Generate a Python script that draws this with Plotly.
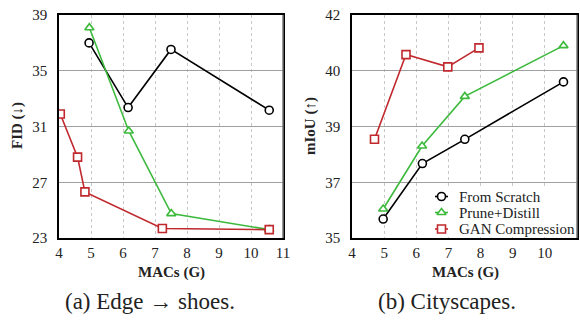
import numpy as np
import plotly.graph_objects as go

# ---- data ----
series_names = ["From Scratch", "Prune+Distill", "GAN Compression"]

# (a) Edge -> shoes, FID
edge_scratch_x = [4.94, 6.16, 7.50, 10.57]
edge_scratch_y = [37.0, 32.36, 36.53, 32.17]
edge_prune_x = [4.95, 6.18, 7.51, 10.57]
edge_prune_y = [38.09, 30.68, 24.75, 23.60]
edge_gan_x = [4.04, 4.58, 4.81, 7.23, 10.57]
edge_gan_y = [31.9, 28.8, 26.31, 23.68, 23.60]

# (b) Cityscapes, mIoU
city_scratch_x = [4.97, 6.19, 7.51, 10.58]
city_scratch_y = [35.68, 37.67, 38.54, 39.80]
city_prune_x = [4.97, 6.18, 7.51, 10.58]
city_prune_y = [36.04, 38.30, 39.54, 40.90]
city_gan_x = [4.70, 5.68, 6.98, 7.95]
city_gan_y = [38.54, 40.58, 40.14, 40.82]

edge_yticks = [23, 27, 31, 35, 39]
city_yticks = [35, 37, 39, 40, 42]
x_ticks = [4, 5, 6, 7, 8, 9, 10, 11]

colors = ["#000000", "#3dba3d", "#c0282d"]
symbols = ["circle", "triangle-up", "square"]

# the Cityscapes axis places its labelled ticks evenly
city_pos = list(range(len(city_yticks)))
def city_map(v):
    return np.interp(v, city_yticks, city_pos)

FONT = "Times New Roman, Liberation Serif, DejaVu Serif, serif"
W, H = 580, 322

def marker(i):
    return dict(symbol=symbols[i], size=8, color="white", line=dict(width=1.6, color=colors[i]))

fig = go.Figure()
edge = [(edge_scratch_x, edge_scratch_y), (edge_prune_x, edge_prune_y), (edge_gan_x, edge_gan_y)]
city = [(city_scratch_x, city_scratch_y), (city_prune_x, city_prune_y), (city_gan_x, city_gan_y)]
for i, (xs, ys) in enumerate(edge):
    fig.add_trace(go.Scatter(x=xs, y=ys, mode="lines+markers", name=series_names[i],
                             line=dict(color=colors[i], width=1.6), marker=marker(i),
                             xaxis="x", yaxis="y", showlegend=False))
for i, (xs, ys) in enumerate(city):
    fig.add_trace(go.Scatter(x=xs, y=city_map(ys), mode="lines+markers", name=series_names[i],
                             line=dict(color=colors[i], width=1.6), marker=marker(i),
                             xaxis="x2", yaxis="y2", showlegend=False))

# ---- manual legend box (layout positions in pixels) ----
LEG_X0, LEG_X1, LEG_Y0, LEG_Y1 = 428, 576, 188, 237
leg_rows_y = [196.5, 212.5, 229]
leg_sym_x0, leg_sym_x1, leg_sym_xc, leg_text_x = 435, 448, 441.5, 457
for i in range(3):
    yy = leg_rows_y[i]
    fig.add_trace(go.Scatter(x=[leg_sym_x0, leg_sym_x1], y=[yy, yy], mode="lines",
                             line=dict(color=colors[i], width=1.6), xaxis="x3", yaxis="y3",
                             showlegend=False, hoverinfo="skip"))
    fig.add_trace(go.Scatter(x=[leg_sym_xc], y=[yy], mode="markers", marker=marker(i),
                             xaxis="x3", yaxis="y3", showlegend=False, hoverinfo="skip"))

axis_common = dict(showline=True, linecolor="#000000", linewidth=1.5, mirror=True, automargin=False,
                   tickfont=dict(family=FONT, size=15, color="#222"), zeroline=False)
y_ticks_style = dict(ticks="outside", ticklen=7, tickcolor="rgba(0,0,0,0)")

L0, L1, R0, R1 = 59 / W, 283 / W, 352 / W, 577 / W
Y0, Y1 = 1 - 238 / H, 1 - 15 / H

def ann(text, x, y, size, angle=0, xanchor="center"):
    return dict(text=text, x=x / W, y=1 - y / H, xref="paper", yref="paper",
                showarrow=False, textangle=angle, xanchor=xanchor, yanchor="middle",
                font=dict(family=FONT, size=size, color="#222"))

annotations = [
    ann("<b>FID (↓)</b>", 18, 126, 15, -90),
    ann("<b>mIoU (↑)</b>", 311, 126, 15, -90),
    ann("<b>MACs (G)</b>", 171, 272, 15),
    ann("<b>MACs (G)</b>", 465, 272, 15),
    ann("(a) Edge → shoes.", 150, 301, 23),
    ann("(b) Cityscapes.", 447, 301, 23),
]
for i in range(3):
    annotations.append(ann(series_names[i], leg_text_x, leg_rows_y[i], 15, xanchor="left"))

right_edges = [dict(type="line", xref="paper", yref="paper", x0=xe, x1=xe, y0=Y0, y1=Y1,
                    line=dict(color="#777777", width=1.5), layer="above") for xe in (L1, R1)]

fig.update_layout(
    width=W, height=H,
    margin=dict(l=0, r=0, t=0, b=0),
    paper_bgcolor="white", plot_bgcolor="white",
    font=dict(family=FONT, color="#222"),
    showlegend=False,
    xaxis=dict(domain=[L0, L1], range=[4, 11], tickvals=x_ticks, ticks="",
               showgrid=True, gridcolor="#c8c8c8", griddash="dot", gridwidth=1,
               anchor="y", **axis_common),
    yaxis=dict(domain=[Y0, Y1], range=[23, 39], tickvals=edge_yticks,
               showgrid=True, gridcolor="#a0a0a0", gridwidth=1,
               anchor="x", **y_ticks_style, **axis_common),
    xaxis2=dict(domain=[R0, R1], range=[4, 11], tickvals=x_ticks, ticks="",
                showgrid=True, gridcolor="#c8c8c8", griddash="dot", gridwidth=1,
                anchor="y2", **axis_common),
    yaxis2=dict(domain=[Y0, Y1], range=[0, 4], tickvals=city_pos,
                ticktext=[str(t) for t in city_yticks],
                showgrid=True, gridcolor="#a0a0a0", gridwidth=1,
                anchor="x2", **y_ticks_style, **axis_common),
    xaxis3=dict(domain=[LEG_X0 / W, LEG_X1 / W], range=[LEG_X0, LEG_X1], visible=False,
                anchor="y3", fixedrange=True),
    yaxis3=dict(domain=[1 - LEG_Y1 / H, 1 - LEG_Y0 / H], range=[LEG_Y1, LEG_Y0], visible=False,
                anchor="x3", fixedrange=True),
    shapes=right_edges,
    annotations=annotations,
)

fig.write_html("out.html")
